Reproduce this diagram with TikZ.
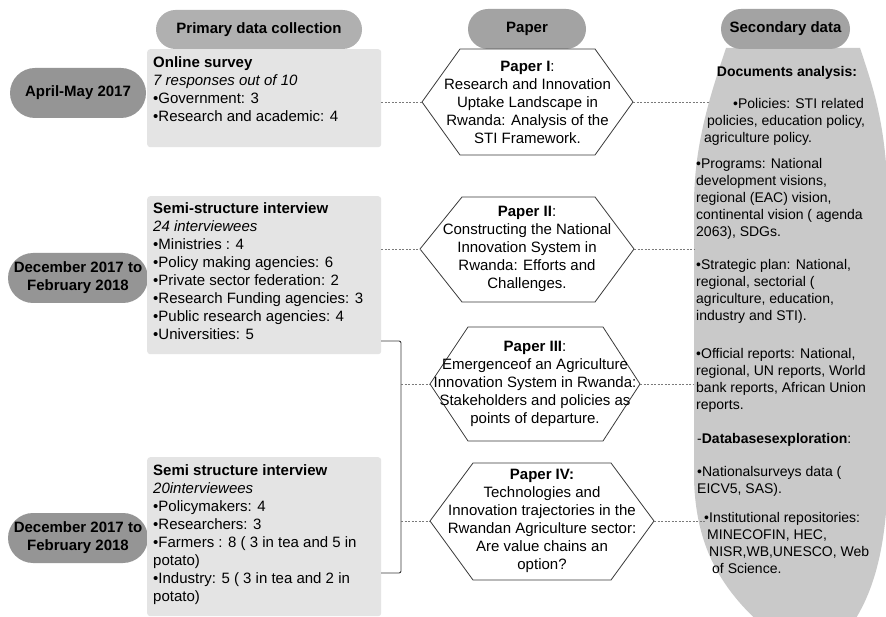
\documentclass[tikz,border=0pt]{standalone}
\usepackage{fontspec}
\setmainfont{Liberation Sans}
\usetikzlibrary{shapes.misc,calc}
\definecolor{hdrA}{HTML}{B0B0B0}
\definecolor{hdrB}{HTML}{A3A3A3}
\definecolor{datec}{HTML}{959595}
\definecolor{boxc}{HTML}{E4E4E4}
\definecolor{secc}{HTML}{C9C9C9}
\definecolor{linec}{HTML}{3A3A3A}
\definecolor{dashc}{HTML}{7A7A7A}
\tikzset{
  pill/.style={rounded rectangle, inner sep=0, draw=none, font=\fontsize{15}{18}\selectfont\bfseries, align=center},
  boxbg/.style={rectangle, fill=boxc, draw=none, rounded corners=3, inner sep=0, anchor=north west},
  boxtxt/.style={anchor=north west, inner sep=0, align=left, font=\fontsize{15}{18}\selectfont},
  hexline/.style={draw=linec, fill=white, line width=0.8pt, line join=round},
  hextxt/.style={inner sep=0, align=center, font=\fontsize{15}{18}\selectfont},
  sectxt/.style={anchor=north west, inner sep=0, align=left, font=\fontsize{14}{17}\selectfont},
  dashline/.style={draw=dashc, line width=0.6pt, dash pattern=on 2pt off 1.5pt},
  bracketline/.style={draw=linec, line width=0.9pt, rounded corners=2}
}
\begin{document}
\begin{tikzpicture}[x=1pt,y=-1pt]
\useasboundingbox (0,0) rectangle (886,617);
\clip (0,0) rectangle (886,617);
\fill[white] (0,0) rectangle (886,617);

% secondary data shape
\fill[secc] (726,48) -- (860,48)
  .. controls (874,90) and (886,125) .. (888,200)
  -- (888,470)
  .. controls (887,545) and (875,600) .. (840,640)
  -- (780,640)
  .. controls (715,590) and (696,540) .. (694,480)
  -- (694,200)
  .. controls (695,140) and (712,90) .. (726,48) -- cycle;

% headers
\node[pill, fill=hdrA, minimum width=206, minimum height=39] (h1) at (259,29.5) {Primary data collection};
\node[pill, fill=hdrB, minimum width=118, minimum height=40] (h2) at (527,29) {Paper};
\node[pill, fill=hdrB, minimum width=129, minimum height=40] (h3) at (785.5,29) {Secondary data};

% date pills
\node[pill, fill=datec, minimum width=136, minimum height=50] (d1) at (78,93) {April-May 2017};
\node[pill, fill=datec, minimum width=136, minimum height=50] (d2) at (78,278) {December 2017 to\\February 2018};
\node[pill, fill=datec, minimum width=136, minimum height=50] (d3) at (78,538) {December 2017 to\\February 2018};

% primary boxes
\node[boxbg, minimum width=234, minimum height=98] (b1) at (147,49) {};
\node[boxbg, minimum width=234, minimum height=158] (b2) at (147,196) {};
\node[boxbg, minimum width=234, minimum height=159] (b3) at (147,457) {};

\node[boxtxt] (t1) at (153,56) {\textbf{Online survey}\\
\textit{7 responses out of 10}\\
•Government: 3\\
•Research and academic: 4};
\node[boxtxt] (t2) at (153,202.5) {\textbf{Semi-structure interview}\\
\textit{24 interviewees}\\
•Ministries : 4\\
•Policy making agencies: 6\\
•Private sector federation: 2\\
•Research Funding agencies: 3\\
•Public research agencies: 4\\
•Universities: 5};
\node[boxtxt] (t3) at (153,464.5) {\textbf{Semi structure interview}\\
\textit{20interviewees}\\
•Policymakers: 4\\
•Researchers: 3\\
•Farmers : 8 ( 3 in tea and 5 in\\
potato)\\
•Industry: 5 ( 3 in tea and 2 in\\
potato)};

% hexagons
\draw[hexline] (422,102) coordinate (p1w) -- (460,49) -- (595,49) -- (633,102) coordinate (p1e) -- (595,155) -- (460,155) -- cycle;
\node[hextext/.style={}, hextxt] (p1) at (527.5,102) {\textbf{Paper I}:\\Research and Innovation\\Uptake Landscape in\\Rwanda: Analysis of the\\STI Framework.};

\draw[hexline] (420,249) coordinate (p2w) -- (462,197) -- (595,197) -- (634,249) coordinate (p2e) -- (595,302) -- (462,302) -- cycle;
\node[hextxt] (p2) at (527,249) {\textbf{Paper II}:\\Constructing the National\\Innovation System in\\Rwanda: Efforts and\\Challenges.};

\draw[hexline] (430,384) coordinate (p3w) -- (468,327) -- (603,327) -- (640,384) coordinate (p3e) -- (603,441) -- (468,441) -- cycle;
\node[hextxt] (p3) at (535,384) {\textbf{Paper III}:\\Emergenceof an Agriculture\\Innovation System in Rwanda:\\Stakeholders and policies as\\points of departure.};

\draw[hexline] (430,521) coordinate (p4w) -- (473,463) -- (611,463) -- (654,521) coordinate (p4e) -- (611,580) -- (473,580) -- cycle;
\node[hextxt] (p4) at (542,521) {\textbf{Paper IV:}\\Technologies and\\Innovation trajectories in the\\Rwandan Agriculture sector:\\Are value chains an\\option?};

% connectors left
\draw[dashline] (b1.east |- p1w) -- (p1w);
\draw[dashline] (b2.east |- p2w) -- (p2w);
\coordinate (brA) at (381,341);
\coordinate (brB) at (401,341);
\coordinate (brC) at (401,573);
\coordinate (brD) at (381,573);
\draw[bracketline] (brA) -- (brB) -- (brC) -- (brD);
\draw[dashline] (brB |- p3w) -- (p3w);
\draw[dashline] (brB |- p4w) -- (p4w);

% connectors right
\coordinate (s1) at (710,102);
\coordinate (s2) at (694,249);
\coordinate (s3) at (694,384);
\coordinate (s4) at (705,521);
\draw[dashline] (p1e) -- (s1);
\draw[dashline] (p2e) -- (s2);
\draw[dashline] (p3e) -- (s3);
\draw[dashline] (p4e) -- (s4);

% secondary text
\node[sectxt, anchor=north] (e0) at (787,66) {\textbf{Documents analysis:}};
\node[sectxt] (e1) at (704,98.5) {\hspace*{29pt}•Policies: STI related\\
\hspace*{3pt}policies, education policy,\\
agriculture policy.};
\node[sectxt] (e2) at (696,158.5) {•Programs: National\\
development visions,\\
regional (EAC) vision,\\
continental vision ( agenda\\
2063), SDGs.};
\node[sectxt] (e3) at (696,259.5) {•Strategic plan: National,\\
regional, sectorial (\\
agriculture, education,\\
industry and STI).};
\node[sectxt] (e4) at (696,348.5) {•Official reports: National,\\
regional, UN reports, World\\
bank reports, African Union\\
reports.};
\node[sectxt] (e5) at (697,433.5) {-\textbf{Databasesexploration}:};
\node[sectxt] (e6) at (697,466.5) {•Nationalsurveys data (\\
EICV5, SAS).};
\node[sectxt] (e7) at (704,512.5) {•Institutional repositories:\\
\hspace*{3pt}MINECOFIN, HEC,\\
\hspace*{5pt}NISR,WB,UNESCO, Web\\
\hspace*{8pt}of Science.};
\end{tikzpicture}
\end{document}
